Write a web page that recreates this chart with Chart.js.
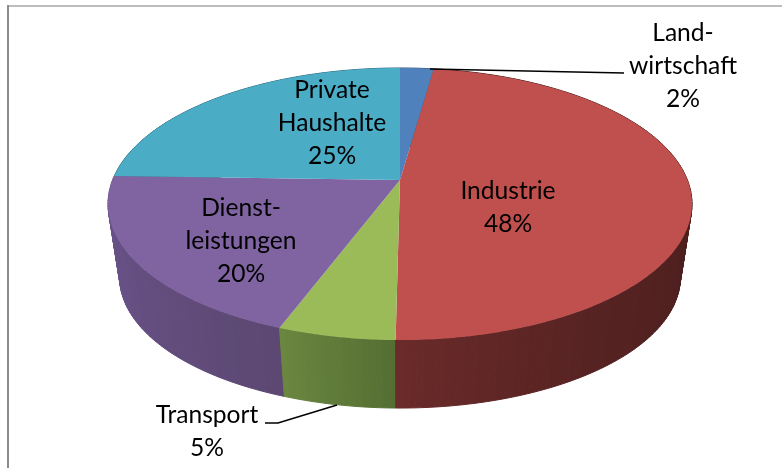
<!DOCTYPE html>
<html>
<head>
<meta charset="utf-8">
<style>
  html, body { margin: 0; padding: 0; background: #fff; }
  canvas { display: block; }
</style>
<script src="https://cdn.jsdelivr.net/npm/chart.js@4/dist/chart.umd.js"></script>
</head>
<body>
<canvas id="graph1" width="782" height="468"></canvas>
<script>
// Daten (Beschriftung gerundet)
var categories = ['Landwirtschaft', 'Industrie', 'Transport', 'Dienstleistungen', 'Private Haushalte']
var values = [2.2, 48.0, 5.49, 19.81, 24.5]
var labelLines = [
    ['Land-', 'wirtschaft', '2%'],
    ['Industrie', '48%'],
    ['Transport', '5%'],
    ['Dienst-', 'leistungen', '20%'],
    ['Private', 'Haushalte', '25%']
]

var topColors = ['#4f81bd', '#c0504d', '#9bbb59', '#8064a2', '#4bacc6']
// Seitenwand: Farbe am Anfang / Ende des Winkels, Verlauf als Potenz
var sideStart = ['#34557c', '#4a1e1d', '#556f33', '#5c4872', '#316f80']
var sideEnd = ['#34557c', '#6b2b2a', '#6b8740', '#6d5590', '#316f80']
var sideCurve = [1, 4, 1, 1, 1]

// Lage der Beschriftungen (Mitte der ersten Zeile)
var labelPos = [[683, 33], [508, 191], [207, 415], [241, 208], [332, 90]]

// Perspektive der Scheibe
var persp = { cx: 400, cy: 180, a: 287.4, b: 131.8, k: 0.1765 }
var wall = { dy: 74.4, scale: 0.96 }

function project(angle, lower) {
    var u = Math.sin(angle), v = Math.cos(angle)
    var w = 1 + persp.k * v
    var s = lower ? wall.scale : 1
    var dy = lower ? wall.dy : 0
    return {
        x: persp.cx + s * persp.a * u / w,
        y: persp.cy + dy - s * persp.b * v / w
    }
}

function hexMix(c1, c2, t) {
    var a = parseInt(c1.slice(1), 16), b = parseInt(c2.slice(1), 16)
    var r = Math.round((a >> 16) + ((b >> 16) - (a >> 16)) * t)
    var g = Math.round(((a >> 8) & 255) + (((b >> 8) & 255) - ((a >> 8) & 255)) * t)
    var bl = Math.round((a & 255) + ((b & 255) - (a & 255)) * t)
    return 'rgb(' + r + ',' + g + ',' + bl + ')'
}

var pie3d = {
    id: 'pie3d',
    beforeDraw: function (chart) {
        var ctx = chart.ctx
        ctx.save()
        ctx.fillStyle = '#ffffff'
        ctx.fillRect(0, 0, 782, 468)
        ctx.fillStyle = '#bdbdbd'
        ctx.fillRect(7, 5, 775, 2)
        ctx.fillStyle = '#8c8c8c'
        ctx.fillRect(7, 5, 2, 463)
        ctx.restore()
    },
    // Bögen aus dem Chart.js-Layout lesen und selbst perspektivisch zeichnen
    beforeDatasetDraw: function (chart, args) {
        var ctx = chart.ctx
        var arcs = chart.getDatasetMeta(args.index).data
        var quads = []
        arcs.forEach(function (arc, i) {
            var start = arc.startAngle + Math.PI / 2
            var end = arc.endAngle + Math.PI / 2
            var n = Math.max(2, Math.ceil((end - start) / 0.02))
            for (var j = 0; j < n; j++) {
                var t = Math.pow(j / n, sideCurve[i])
                quads.push({
                    a0: start + (end - start) * j / n,
                    a1: start + (end - start) * (j + 1) / n,
                    color: hexMix(sideStart[i], sideEnd[i], t)
                })
            }
        })
        // hinten zuerst
        quads.sort(function (p, q) { return Math.cos(q.a0) - Math.cos(p.a0) })
        ctx.save()
        ctx.lineWidth = 1
        quads.forEach(function (q) {
            var p0 = project(q.a0), p1 = project(q.a1)
            var p2 = project(q.a1, true), p3 = project(q.a0, true)
            ctx.fillStyle = q.color
            ctx.strokeStyle = q.color
            ctx.beginPath()
            ctx.moveTo(p0.x, p0.y)
            ctx.lineTo(p1.x, p1.y)
            ctx.lineTo(p2.x, p2.y)
            ctx.lineTo(p3.x, p3.y)
            ctx.closePath()
            ctx.fill()
            ctx.stroke()
        })
        arcs.forEach(function (arc, i) {
            var start = arc.startAngle + Math.PI / 2
            var end = arc.endAngle + Math.PI / 2
            var n = Math.ceil((end - start) / 0.01)
            ctx.fillStyle = topColors[i]
            ctx.beginPath()
            ctx.moveTo(persp.cx, persp.cy)
            for (var j = 0; j <= n; j++) {
                var p = project(start + (end - start) * j / n)
                ctx.lineTo(p.x, p.y)
            }
            ctx.closePath()
            ctx.fill()
        })
        ctx.restore()
        return false
    },
    afterDatasetsDraw: function (chart) {
        var ctx = chart.ctx
        ctx.save()
        // Führungslinien
        ctx.strokeStyle = '#000000'
        ctx.lineWidth = 1.6
        ctx.beginPath()
        ctx.moveTo(430, 69)
        ctx.lineTo(624, 73)
        ctx.moveTo(337, 405)
        ctx.lineTo(278, 423)
        ctx.lineTo(265, 423)
        ctx.stroke()
        // Texte
        ctx.fillStyle = '#000000'
        ctx.font = '24.6px Lato, "Open Sans", sans-serif'
        ctx.textAlign = 'center'
        ctx.textBaseline = 'middle'
        labelLines.forEach(function (lines, i) {
            lines.forEach(function (line, j) {
                ctx.fillText(line, labelPos[i][0], labelPos[i][1] + j * 33)
            })
        })
        ctx.restore()
    }
}

var ctx = document.getElementById('graph1').getContext('2d')
var graph1 = new Chart(ctx, {
    type: 'pie',
    data: {
        labels: categories,
        datasets: [{ data: values, backgroundColor: topColors, borderWidth: 0 }]
    },
    options: {
        responsive: false,
        animation: false,
        plugins: { legend: { display: false }, tooltip: { enabled: false } }
    },
    plugins: [pie3d]
})
</script>
</body>
</html>
